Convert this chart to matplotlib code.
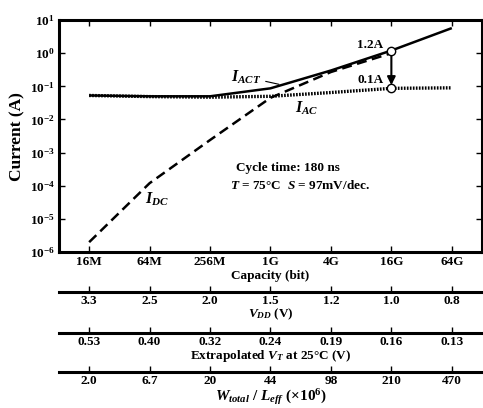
import numpy as np
import matplotlib
matplotlib.use("Agg")
import matplotlib.pyplot as plt

# fonts: Times-like bold everywhere
plt.rcParams['font.family'] = ['Liberation Serif', 'DejaVu Serif']
plt.rcParams['font.weight'] = 'bold'
plt.rcParams['axes.labelweight'] = 'bold'
plt.rcParams['mathtext.fontset'] = 'custom'
plt.rcParams['mathtext.rm'] = 'Liberation Serif:bold'
plt.rcParams['mathtext.it'] = 'Liberation Serif:italic:bold'
plt.rcParams['mathtext.bf'] = 'Liberation Serif:bold'

# data
capacity = ['16M', '64M', '256M', '1G', '4G', '16G', '64G']
i_act = [0.053, 0.050, 0.050, 0.087, 0.30, 1.2, 5.7]
i_ac = [0.053, 0.049, 0.047, 0.050, 0.065, 0.087, 0.090]
i_dc = [2.0e-6, 1.2e-4, 2.4e-3, 0.045, 0.27, 1.0, None]
vdd = ['3.3', '2.5', '2.0', '1.5', '1.2', '1.0', '0.8']
vt = ['0.53', '0.40', '0.32', '0.24', '0.19', '0.16', '0.13']
w_over_l = ['2.0', '6.7', '20', '44', '98', '210', '470']

x = np.arange(len(capacity))
xlim = (-0.5, len(capacity) - 0.5)

fig = plt.figure(figsize=(4.83, 4.08), dpi=100)
ax = fig.add_axes([0.122, 0.382, 0.876, 0.569])

ax.plot(x, i_act, color='black', lw=1.8, solid_capstyle='butt')
ax.plot(x, i_ac, color='black', lw=2.4, linestyle=(0, (0.5, 0.4)))
dc = np.array([v if v is not None else np.nan for v in i_dc], dtype=float)
ax.plot(x, dc, color='black', lw=1.8, linestyle=(0, (4, 2.2)))

# open circles at 16G
ax.plot([5, 5], [i_act[5], i_ac[5]], linestyle='none', marker='o',
        markersize=6, markerfacecolor='white', markeredgecolor='black',
        markeredgewidth=1.0, zorder=5)
ax.annotate('', xy=(5, i_ac[5] * 1.25), xytext=(5, i_act[5] * 0.85),
            arrowprops=dict(arrowstyle='-|>', color='black', lw=1.5,
                            mutation_scale=12, shrinkA=0, shrinkB=0))
ax.text(4.87, 1.75, '1.2A', ha='right', va='center', fontsize=9.5)
ax.text(4.87, 0.15, '0.1A', ha='right', va='center', fontsize=9.5)

# curve labels
ax.annotate('$I_{ACT}$', xy=(3.14, 0.115), xytext=(2.6, 0.19),
            ha='center', va='center', fontsize=11.5,
            arrowprops=dict(arrowstyle='-', color='black', lw=0.8,
                            shrinkA=1, shrinkB=0))
ax.text(3.6, 0.021, '$I_{AC}$', ha='center', va='center', fontsize=11.5)
ax.text(1.12, 3.8e-5, '$I_{DC}$', ha='center', va='center', fontsize=11.5)

ax.text(0.541, 0.362, 'Cycle time: 180 ns', transform=ax.transAxes,
        ha='center', va='center', fontsize=9.5)
ax.text(0.569, 0.289, '$T$ = 75°C  $S$ = 97mV/dec.', transform=ax.transAxes,
        ha='center', va='center', fontsize=9.5)

ax.set_yscale('log')
ax.set_ylim(1e-6, 10)
ax.set_xlim(*xlim)
ax.set_yticks([10.0 ** k for k in range(-6, 2)])
ax.minorticks_off()
ax.set_xticks(x)
ax.set_xticklabels(capacity)
ax.tick_params(direction='in', top=True, right=True, length=4, width=1,
               labelsize=9.5, pad=3)
ax.tick_params(axis='y', labelright=False)
for s in ax.spines.values():
    s.set_linewidth(2.2)
ax.set_xlabel('Capacity (bit)', fontsize=9.5, labelpad=1)
ax.set_ylabel('Current (A)', fontsize=12.5, labelpad=3)

# extra scales under the main axes
def scale_axis(ybottom, labels, title, title_size):
    sa = fig.add_axes([0.122, ybottom, 0.876, 0.0001])
    sa.set_xlim(*xlim)
    sa.set_yticks([])
    for side in ('top', 'left', 'right'):
        sa.spines[side].set_visible(False)
    sa.spines['bottom'].set_linewidth(2.2)
    sa.set_xticks(x)
    sa.set_xticklabels(labels)
    sa.tick_params(axis='x', direction='in', length=4, width=1,
                   labelsize=9.5, pad=2)
    sa.set_xlabel(title, fontsize=title_size, labelpad=0)
    sa.patch.set_visible(False)
    return sa

scale_axis(0.284, vdd, '$V_{DD}$ (V)', 9.5)
scale_axis(0.184, vt, 'Extrapolated $V_T$ at 25°C (V)', 9.5)
scale_axis(0.088, w_over_l, '$W_{total}$ / $L_{eff}$ (×10$^{6}$)', 11)

fig.savefig('out.png', dpi=100)
